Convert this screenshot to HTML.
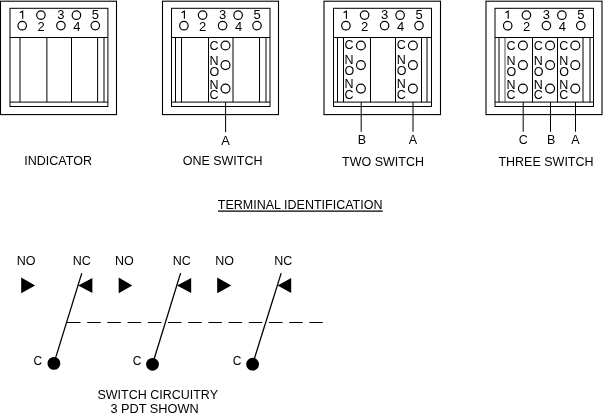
<!DOCTYPE html>
<html><head><meta charset="utf-8"><style>
html,body{margin:0;padding:0;background:#fff;width:603px;height:415px;overflow:hidden}
svg{display:block;will-change:transform;font-family:"Liberation Sans",sans-serif}
</style></head><body>
<svg width="603" height="415" viewBox="0 0 603 415">
<rect x="0.5" y="1.2" width="116.0" height="113.4" fill="none" stroke="#000" stroke-width="1.1"/>
<rect x="10" y="8.3" width="97.9" height="98.2" fill="none" stroke="#000" stroke-width="1"/>
<line x1="10" y1="37.5" x2="107.9" y2="37.5" stroke="#000" stroke-width="1"/>
<line x1="10" y1="102.1" x2="107.9" y2="102.1" stroke="#000" stroke-width="1"/>
<line x1="20" y1="37.5" x2="20" y2="102.1" stroke="#000" stroke-width="1"/>
<line x1="46.9" y1="37.5" x2="46.9" y2="102.1" stroke="#000" stroke-width="1"/>
<line x1="71.5" y1="37.5" x2="71.5" y2="102.1" stroke="#000" stroke-width="1"/>
<line x1="97.6" y1="37.5" x2="97.6" y2="102.1" stroke="#000" stroke-width="1"/>
<line x1="104" y1="37.5" x2="104" y2="102.1" stroke="#000" stroke-width="1"/>
<path d="M22.7 10.4V18.8M22.6 11L19.9 12.7" fill="none" stroke="#000" stroke-width="1.15"/>
<text x="60.9" y="18.7" font-size="13" text-anchor="middle" font-family="Liberation Sans">3</text>
<text x="95.3" y="18.7" font-size="13" text-anchor="middle" font-family="Liberation Sans">5</text>
<text x="41.0" y="30.5" font-size="13" text-anchor="middle" font-family="Liberation Sans">2</text>
<text x="76.8" y="30.5" font-size="13" text-anchor="middle" font-family="Liberation Sans">4</text>
<circle cx="40.9" cy="15.1" r="4.25" fill="none" stroke="#000" stroke-width="1.2"/>
<circle cx="76.4" cy="15.2" r="4.25" fill="none" stroke="#000" stroke-width="1.2"/>
<circle cx="22.2" cy="25.7" r="4.25" fill="none" stroke="#000" stroke-width="1.2"/>
<circle cx="60.9" cy="25.6" r="4.25" fill="none" stroke="#000" stroke-width="1.2"/>
<circle cx="95.3" cy="25.6" r="4.25" fill="none" stroke="#000" stroke-width="1.2"/>
<rect x="162.5" y="1.2" width="116.0" height="113.4" fill="none" stroke="#000" stroke-width="1.1"/>
<rect x="171.5" y="8.3" width="98.5" height="98.2" fill="none" stroke="#000" stroke-width="1"/>
<line x1="171.5" y1="37.5" x2="270" y2="37.5" stroke="#000" stroke-width="1"/>
<line x1="171.5" y1="102.1" x2="270" y2="102.1" stroke="#000" stroke-width="1"/>
<line x1="175.5" y1="37.5" x2="175.5" y2="102.1" stroke="#000" stroke-width="1"/>
<line x1="181.5" y1="37.5" x2="181.5" y2="102.1" stroke="#000" stroke-width="1"/>
<line x1="208.5" y1="37.5" x2="208.5" y2="102.1" stroke="#000" stroke-width="1"/>
<line x1="233" y1="37.5" x2="233" y2="102.1" stroke="#000" stroke-width="1"/>
<line x1="259.5" y1="37.5" x2="259.5" y2="102.1" stroke="#000" stroke-width="1"/>
<line x1="266" y1="37.5" x2="266" y2="102.1" stroke="#000" stroke-width="1"/>
<path d="M184.39999999999998 10.4V18.8M184.29999999999998 11L181.6 12.7" fill="none" stroke="#000" stroke-width="1.15"/>
<text x="222.6" y="18.7" font-size="13" text-anchor="middle" font-family="Liberation Sans">3</text>
<text x="257.0" y="18.7" font-size="13" text-anchor="middle" font-family="Liberation Sans">5</text>
<text x="202.7" y="30.5" font-size="13" text-anchor="middle" font-family="Liberation Sans">2</text>
<text x="238.5" y="30.5" font-size="13" text-anchor="middle" font-family="Liberation Sans">4</text>
<circle cx="202.6" cy="15.1" r="4.25" fill="none" stroke="#000" stroke-width="1.2"/>
<circle cx="238.1" cy="15.2" r="4.25" fill="none" stroke="#000" stroke-width="1.2"/>
<circle cx="183.89999999999998" cy="25.7" r="4.25" fill="none" stroke="#000" stroke-width="1.2"/>
<circle cx="222.6" cy="25.6" r="4.25" fill="none" stroke="#000" stroke-width="1.2"/>
<circle cx="257.0" cy="25.6" r="4.25" fill="none" stroke="#000" stroke-width="1.2"/>
<text x="209.5" y="49.8" font-size="12.5" font-family="Liberation Sans">C</text>
<text x="209.5" y="64.7" font-size="12.5" font-family="Liberation Sans">N</text>
<text x="209.5" y="75.5" font-size="12.5" font-family="Liberation Sans">O</text>
<text x="209.5" y="88.5" font-size="12.5" font-family="Liberation Sans">N</text>
<text x="209.5" y="99.2" font-size="12.5" font-family="Liberation Sans">C</text>
<circle cx="225.5" cy="45.5" r="4.45" fill="none" stroke="#000" stroke-width="1.2"/>
<circle cx="225.5" cy="65.1" r="4.45" fill="none" stroke="#000" stroke-width="1.2"/>
<circle cx="225.5" cy="88.6" r="4.45" fill="none" stroke="#000" stroke-width="1.2"/>
<line x1="225.6" y1="102.2" x2="225.6" y2="132.28" stroke="#000" stroke-width="1"/>
<text x="225.6" y="145.0" font-size="12.9" text-anchor="middle" font-family="Liberation Sans">A</text>
<rect x="324" y="1.2" width="116.5" height="113.4" fill="none" stroke="#000" stroke-width="1.1"/>
<rect x="333.5" y="8.3" width="98.0" height="98.2" fill="none" stroke="#000" stroke-width="1"/>
<line x1="333.5" y1="37.5" x2="431.5" y2="37.5" stroke="#000" stroke-width="1"/>
<line x1="333.5" y1="102.1" x2="431.5" y2="102.1" stroke="#000" stroke-width="1"/>
<line x1="337.5" y1="37.5" x2="337.5" y2="102.1" stroke="#000" stroke-width="1"/>
<line x1="343.5" y1="37.5" x2="343.5" y2="102.1" stroke="#000" stroke-width="1"/>
<line x1="370.5" y1="37.5" x2="370.5" y2="102.1" stroke="#000" stroke-width="1"/>
<line x1="395.5" y1="37.5" x2="395.5" y2="102.1" stroke="#000" stroke-width="1"/>
<line x1="421.5" y1="37.5" x2="421.5" y2="102.1" stroke="#000" stroke-width="1"/>
<line x1="427" y1="37.5" x2="427" y2="102.1" stroke="#000" stroke-width="1"/>
<path d="M346.4 10.4V18.8M346.3 11L343.59999999999997 12.7" fill="none" stroke="#000" stroke-width="1.15"/>
<text x="384.59999999999997" y="18.7" font-size="13" text-anchor="middle" font-family="Liberation Sans">3</text>
<text x="419.0" y="18.7" font-size="13" text-anchor="middle" font-family="Liberation Sans">5</text>
<text x="364.7" y="30.5" font-size="13" text-anchor="middle" font-family="Liberation Sans">2</text>
<text x="400.5" y="30.5" font-size="13" text-anchor="middle" font-family="Liberation Sans">4</text>
<circle cx="364.59999999999997" cy="15.1" r="4.25" fill="none" stroke="#000" stroke-width="1.2"/>
<circle cx="400.1" cy="15.2" r="4.25" fill="none" stroke="#000" stroke-width="1.2"/>
<circle cx="345.9" cy="25.7" r="4.25" fill="none" stroke="#000" stroke-width="1.2"/>
<circle cx="384.59999999999997" cy="25.6" r="4.25" fill="none" stroke="#000" stroke-width="1.2"/>
<circle cx="419.0" cy="25.6" r="4.25" fill="none" stroke="#000" stroke-width="1.2"/>
<text x="344.59999999999997" y="49.199999999999996" font-size="12.5" font-family="Liberation Sans">C</text>
<text x="344.59999999999997" y="64.10000000000001" font-size="12.5" font-family="Liberation Sans">N</text>
<text x="344.59999999999997" y="74.9" font-size="12.5" font-family="Liberation Sans">O</text>
<text x="344.59999999999997" y="87.9" font-size="12.5" font-family="Liberation Sans">N</text>
<text x="344.59999999999997" y="98.9" font-size="12.5" font-family="Liberation Sans">C</text>
<circle cx="360.9" cy="45.5" r="4.45" fill="none" stroke="#000" stroke-width="1.2"/>
<circle cx="360.9" cy="65.1" r="4.45" fill="none" stroke="#000" stroke-width="1.2"/>
<circle cx="360.9" cy="88.6" r="4.45" fill="none" stroke="#000" stroke-width="1.2"/>
<text x="396.7" y="49.199999999999996" font-size="12.5" font-family="Liberation Sans">C</text>
<text x="396.7" y="64.10000000000001" font-size="12.5" font-family="Liberation Sans">N</text>
<text x="396.7" y="74.9" font-size="12.5" font-family="Liberation Sans">O</text>
<text x="396.7" y="87.9" font-size="12.5" font-family="Liberation Sans">N</text>
<text x="396.7" y="98.9" font-size="12.5" font-family="Liberation Sans">C</text>
<circle cx="412.9" cy="45.5" r="4.45" fill="none" stroke="#000" stroke-width="1.2"/>
<circle cx="412.9" cy="65.1" r="4.45" fill="none" stroke="#000" stroke-width="1.2"/>
<circle cx="412.9" cy="88.6" r="4.45" fill="none" stroke="#000" stroke-width="1.2"/>
<line x1="361.2" y1="102.2" x2="361.2" y2="131.8" stroke="#000" stroke-width="1"/>
<text x="361.9" y="144.2" font-size="12.5" text-anchor="middle" font-family="Liberation Sans">B</text>
<line x1="413.0" y1="102.2" x2="413.0" y2="131.8" stroke="#000" stroke-width="1"/>
<text x="413.0" y="144.2" font-size="12.5" text-anchor="middle" font-family="Liberation Sans">A</text>
<rect x="486" y="1.2" width="116" height="113.4" fill="none" stroke="#000" stroke-width="1.1"/>
<rect x="495" y="8.3" width="98.5" height="98.2" fill="none" stroke="#000" stroke-width="1"/>
<line x1="495" y1="37.5" x2="593.5" y2="37.5" stroke="#000" stroke-width="1"/>
<line x1="495" y1="102.1" x2="593.5" y2="102.1" stroke="#000" stroke-width="1"/>
<line x1="499" y1="37.5" x2="499" y2="102.1" stroke="#000" stroke-width="1"/>
<line x1="505" y1="37.5" x2="505" y2="102.1" stroke="#555" stroke-width="1"/>
<line x1="532.5" y1="37.5" x2="532.5" y2="102.1" stroke="#000" stroke-width="1"/>
<line x1="557.5" y1="37.5" x2="557.5" y2="102.1" stroke="#000" stroke-width="1"/>
<line x1="583" y1="37.5" x2="583" y2="102.1" stroke="#000" stroke-width="1"/>
<line x1="590" y1="37.5" x2="590" y2="102.1" stroke="#000" stroke-width="1"/>
<path d="M508.2 10.4V18.8M508.1 11L505.4 12.7" fill="none" stroke="#000" stroke-width="1.15"/>
<text x="546.4" y="18.7" font-size="13" text-anchor="middle" font-family="Liberation Sans">3</text>
<text x="580.8" y="18.7" font-size="13" text-anchor="middle" font-family="Liberation Sans">5</text>
<text x="526.5" y="30.5" font-size="13" text-anchor="middle" font-family="Liberation Sans">2</text>
<text x="562.3" y="30.5" font-size="13" text-anchor="middle" font-family="Liberation Sans">4</text>
<circle cx="526.4" cy="15.1" r="4.25" fill="none" stroke="#000" stroke-width="1.2"/>
<circle cx="561.9" cy="15.2" r="4.25" fill="none" stroke="#000" stroke-width="1.2"/>
<circle cx="507.7" cy="25.7" r="4.25" fill="none" stroke="#000" stroke-width="1.2"/>
<circle cx="546.4" cy="25.6" r="4.25" fill="none" stroke="#000" stroke-width="1.2"/>
<circle cx="580.8" cy="25.6" r="4.25" fill="none" stroke="#000" stroke-width="1.2"/>
<text x="506.6" y="49.8" font-size="12.5" font-family="Liberation Sans">C</text>
<text x="506.6" y="64.7" font-size="12.5" font-family="Liberation Sans">N</text>
<text x="506.6" y="75.5" font-size="12.5" font-family="Liberation Sans">O</text>
<text x="506.6" y="88.5" font-size="12.5" font-family="Liberation Sans">N</text>
<text x="506.6" y="99.2" font-size="12.5" font-family="Liberation Sans">C</text>
<circle cx="522.9" cy="45.5" r="4.45" fill="none" stroke="#000" stroke-width="1.2"/>
<circle cx="522.9" cy="65.1" r="4.45" fill="none" stroke="#000" stroke-width="1.2"/>
<circle cx="522.9" cy="88.6" r="4.45" fill="none" stroke="#000" stroke-width="1.2"/>
<text x="533.8" y="49.8" font-size="12.5" font-family="Liberation Sans">C</text>
<text x="533.8" y="64.7" font-size="12.5" font-family="Liberation Sans">N</text>
<text x="533.8" y="75.5" font-size="12.5" font-family="Liberation Sans">O</text>
<text x="533.8" y="88.5" font-size="12.5" font-family="Liberation Sans">N</text>
<text x="533.8" y="99.2" font-size="12.5" font-family="Liberation Sans">C</text>
<circle cx="550.1" cy="45.5" r="4.45" fill="none" stroke="#000" stroke-width="1.2"/>
<circle cx="550.1" cy="65.1" r="4.45" fill="none" stroke="#000" stroke-width="1.2"/>
<circle cx="550.1" cy="88.6" r="4.45" fill="none" stroke="#000" stroke-width="1.2"/>
<text x="559.3" y="49.8" font-size="12.5" font-family="Liberation Sans">C</text>
<text x="559.3" y="64.7" font-size="12.5" font-family="Liberation Sans">N</text>
<text x="559.3" y="75.5" font-size="12.5" font-family="Liberation Sans">O</text>
<text x="559.3" y="88.5" font-size="12.5" font-family="Liberation Sans">N</text>
<text x="559.3" y="99.2" font-size="12.5" font-family="Liberation Sans">C</text>
<circle cx="575.3" cy="45.5" r="4.45" fill="none" stroke="#000" stroke-width="1.2"/>
<circle cx="575.3" cy="65.1" r="4.45" fill="none" stroke="#000" stroke-width="1.2"/>
<circle cx="575.3" cy="88.6" r="4.45" fill="none" stroke="#000" stroke-width="1.2"/>
<line x1="523.2" y1="102.2" x2="523.2" y2="131.8" stroke="#000" stroke-width="1"/>
<text x="523.2" y="144.2" font-size="12.5" text-anchor="middle" font-family="Liberation Sans">C</text>
<line x1="550.5" y1="102.2" x2="550.5" y2="131.8" stroke="#000" stroke-width="1"/>
<text x="551.2" y="144.2" font-size="12.5" text-anchor="middle" font-family="Liberation Sans">B</text>
<line x1="575.5" y1="102.2" x2="575.5" y2="131.8" stroke="#000" stroke-width="1"/>
<text x="575.5" y="144.2" font-size="12.5" text-anchor="middle" font-family="Liberation Sans">A</text>
<text x="58.15" y="164.9" font-size="12.5" text-anchor="middle" font-family="Liberation Sans">INDICATOR</text>
<text x="222.6" y="164.9" font-size="12.5" text-anchor="middle" font-family="Liberation Sans">ONE SWITCH</text>
<text x="383.0" y="165.9" font-size="12.5" text-anchor="middle" font-family="Liberation Sans">TWO SWITCH</text>
<text x="546" y="165.9" font-size="12.5" text-anchor="middle" font-family="Liberation Sans">THREE SWITCH</text>
<text x="300.15" y="209.2" font-size="12.5" text-anchor="middle" font-family="Liberation Sans">TERMINAL IDENTIFICATION</text>
<line x1="218" y1="211.1" x2="382.8" y2="211.1" stroke="#000" stroke-width="1.05"/>
<text x="26.15" y="265.1" font-size="12.5" text-anchor="middle" font-family="Liberation Sans">NO</text>
<text x="81.85" y="265.1" font-size="12.5" text-anchor="middle" font-family="Liberation Sans">NC</text>
<polygon points="21.2,277.6 35.1,285.5 21.2,293.3" fill="#000"/>
<polygon points="78.2,285.5 92.4,277.9 92.4,293.1" fill="#000"/>
<line x1="81.8" y1="273.1" x2="53.9" y2="363.4" stroke="#000" stroke-width="1.3"/>
<circle cx="53.9" cy="363.4" r="6.4" fill="#000"/>
<text x="37.800000000000004" y="364.9" font-size="12" text-anchor="middle" font-family="Liberation Sans">C</text>
<text x="124.25" y="265.1" font-size="12.5" text-anchor="middle" font-family="Liberation Sans">NO</text>
<text x="181.85" y="265.1" font-size="12.5" text-anchor="middle" font-family="Liberation Sans">NC</text>
<polygon points="118.7,277.6 132.2,285.5 118.7,293.3" fill="#000"/>
<polygon points="177,285.5 191.2,277.9 191.2,293.1" fill="#000"/>
<line x1="180.6" y1="273.1" x2="152.5" y2="364.3" stroke="#000" stroke-width="1.3"/>
<circle cx="152.5" cy="364.3" r="6.4" fill="#000"/>
<text x="137.0" y="364.9" font-size="12" text-anchor="middle" font-family="Liberation Sans">C</text>
<text x="224.65" y="265.1" font-size="12.5" text-anchor="middle" font-family="Liberation Sans">NO</text>
<text x="283.3" y="265.1" font-size="12.5" text-anchor="middle" font-family="Liberation Sans">NC</text>
<polygon points="217.2,277.6 231.3,285.5 217.2,293.3" fill="#000"/>
<polygon points="277.6,285.5 291.2,277.9 291.2,293.1" fill="#000"/>
<line x1="281.2" y1="273.1" x2="252.6" y2="364.2" stroke="#000" stroke-width="1.3"/>
<circle cx="252.6" cy="364.2" r="6.4" fill="#000"/>
<text x="237.2" y="364.9" font-size="12" text-anchor="middle" font-family="Liberation Sans">C</text>
<line x1="67" y1="322.45" x2="322.8" y2="322.45" stroke="#000" stroke-width="1.1" stroke-dasharray="13.5 6.7"/>
<text x="157.7" y="399.2" font-size="12.5" text-anchor="middle" font-family="Liberation Sans">SWITCH CIRCUITRY</text>
<text x="154.6" y="413.1" font-size="12.75" text-anchor="middle" font-family="Liberation Sans">3 PDT SHOWN</text>
</svg>
</body></html>
